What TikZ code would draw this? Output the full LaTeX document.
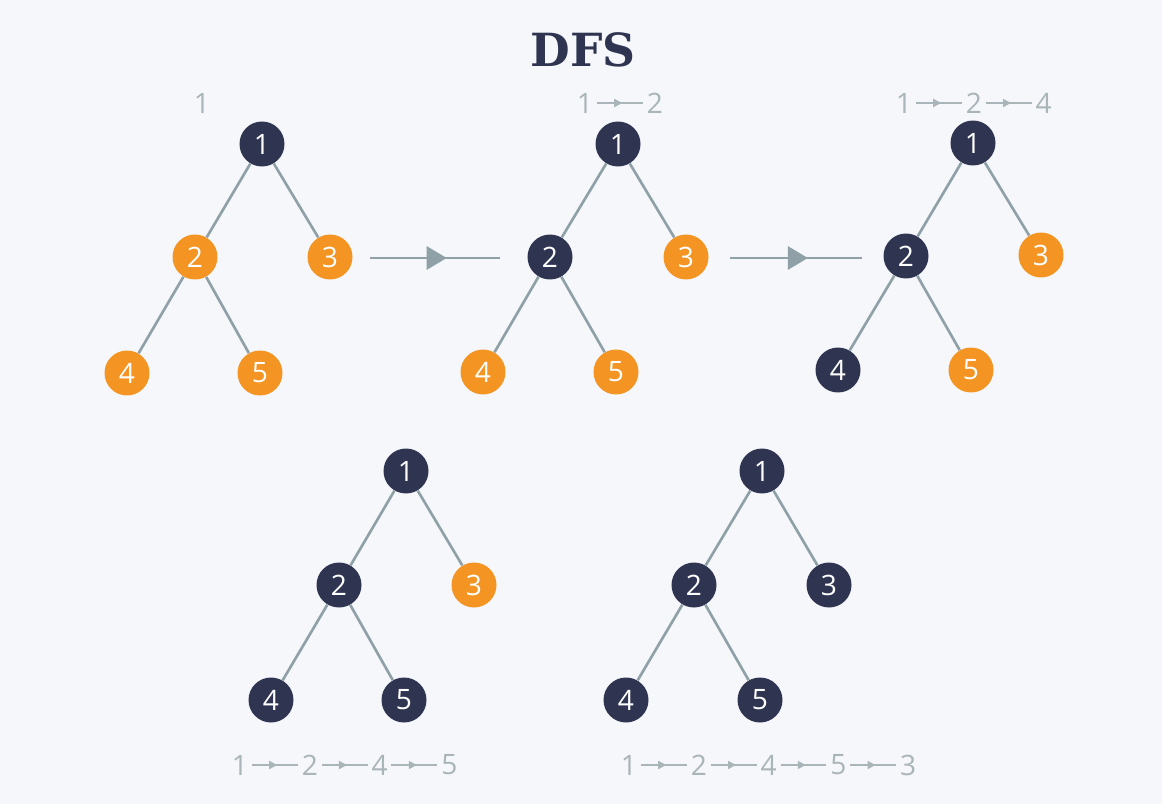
\documentclass[tikz,border=0pt]{standalone}
\usepackage{fontspec}
\setmainfont{Open Sans}
\newfontfamily\titlefont{DejaVu Serif}
\usetikzlibrary{arrows.meta,decorations.markings,positioning}
\definecolor{myNavy}{HTML}{2F3451}
\definecolor{myOrange}{HTML}{F39423}
\definecolor{myLine}{HTML}{8FA0A7}
\definecolor{myGray}{HTML}{AAB5B9}
\definecolor{myBack}{HTML}{F5F7FA}
\tikzset{
myDone/.style={
	circle,fill=myNavy,text=white,
	inner sep=0pt,minimum size=0.9cm,
	font=\fontsize{16}{16}\selectfont
}
, myOpen/.style={myDone,fill=myOrange}
% links
, myEdge/.style={draw=myLine,line width=1.5pt}
, myGo/.style={draw=myLine,line width=1.7pt,postaction={decorate},
	decoration={markings,mark=at position 0.59 with {\arrow[myLine]{Triangle[length=0.4cm,width=0.46cm]}}}}
% order
, myStep/.style={text=myGray,inner sep=2pt,font=\fontsize{16}{16}\selectfont}
, myThen/.style={draw=myGray,line width=0.9pt,postaction={decorate},
	decoration={markings,mark=at position 0.55 with {\arrow[myGray]{Triangle[length=0.16cm,width=0.16cm]}}}}
}
\begin{document}
\begin{tikzpicture}[x=0.02cm,y=-0.02cm]
	\fill[myBack] (0,0) rectangle (1162,804);
	\useasboundingbox (0,0) rectangle (1162,804);
	\node[text=myNavy,font=\titlefont\bfseries\fontsize{26}{26}\selectfont] (title) at (583,50) {DFS};

	% first tree
	\node[myDone] (a1) at (262,144) {1};
	\node[myOpen] (a2) at (195,257) {2};
	\node[myOpen] (a3) at (330,257) {3};
	\node[myOpen] (a4) at (127,373) {4};
	\node[myOpen] (a5) at (260,373) {5};
	\draw[myEdge] (a1) -- (a2) (a1) -- (a3) (a2) -- (a4) (a2) -- (a5);

	% second tree
	\node[myDone] (b1) at (618,144) {1};
	\node[myDone] (b2) at (550,257) {2};
	\node[myOpen] (b3) at (686,257) {3};
	\node[myOpen] (b4) at (483,372) {4};
	\node[myOpen] (b5) at (616,372) {5};
	\draw[myEdge] (b1) -- (b2) (b1) -- (b3) (b2) -- (b4) (b2) -- (b5);

	% third tree
	\node[myDone] (c1) at (973,143) {1};
	\node[myDone] (c2) at (906,256) {2};
	\node[myOpen] (c3) at (1041,255) {3};
	\node[myDone] (c4) at (838,370) {4};
	\node[myOpen] (c5) at (971,370) {5};
	\draw[myEdge] (c1) -- (c2) (c1) -- (c3) (c2) -- (c4) (c2) -- (c5);

	% fourth tree
	\node[myDone] (d1) at (406,471) {1};
	\node[myDone] (d2) at (339,585) {2};
	\node[myOpen] (d3) at (474,585) {3};
	\node[myDone] (d4) at (271,700) {4};
	\node[myDone] (d5) at (404,700) {5};
	\draw[myEdge] (d1) -- (d2) (d1) -- (d3) (d2) -- (d4) (d2) -- (d5);

	% fifth tree
	\node[myDone] (e1) at (762,471) {1};
	\node[myDone] (e2) at (694,585) {2};
	\node[myDone] (e3) at (829,585) {3};
	\node[myDone] (e4) at (626,700) {4};
	\node[myDone] (e5) at (760,700) {5};
	\draw[myEdge] (e1) -- (e2) (e1) -- (e3) (e2) -- (e4) (e2) -- (e5);

	% arrows between trees
	\coordinate (go1s) at (370,258);
	\coordinate (go1e) at (500,258);
	\coordinate (go2s) at (730,258);
	\coordinate (go2e) at (862,258);
	\draw[myGo] (go1s) -- (go1e);
	\draw[myGo] (go2s) -- (go2e);

	% visit order
	\node[myStep] (sa1) at (202,103) {1};

	\node[myStep] (sb1) at (585,103) {1};
	\node[myStep] (sb2) [right=0.92cm of sb1] {2};
	\draw[myThen] (sb1) -- (sb2);

	\node[myStep] (sc1) at (904,103) {1};
	\node[myStep] (sc2) [right=0.92cm of sc1] {2};
	\node[myStep] (sc4) [right=0.92cm of sc2] {4};
	\draw[myThen] (sc1) -- (sc2);
	\draw[myThen] (sc2) -- (sc4);

	\node[myStep] (sd1) at (240,765) {1};
	\node[myStep] (sd2) [right=0.92cm of sd1] {2};
	\node[myStep] (sd4) [right=0.92cm of sd2] {4};
	\node[myStep] (sd5) [right=0.92cm of sd4] {5};
	\draw[myThen] (sd1) -- (sd2);
	\draw[myThen] (sd2) -- (sd4);
	\draw[myThen] (sd4) -- (sd5);

	\node[myStep] (se1) at (629,765) {1};
	\node[myStep] (se2) [right=0.92cm of se1] {2};
	\node[myStep] (se4) [right=0.92cm of se2] {4};
	\node[myStep] (se5) [right=0.92cm of se4] {5};
	\node[myStep] (se3) [right=0.92cm of se5] {3};
	\draw[myThen] (se1) -- (se2);
	\draw[myThen] (se2) -- (se4);
	\draw[myThen] (se4) -- (se5);
	\draw[myThen] (se5) -- (se3);
\end{tikzpicture}
\end{document}
